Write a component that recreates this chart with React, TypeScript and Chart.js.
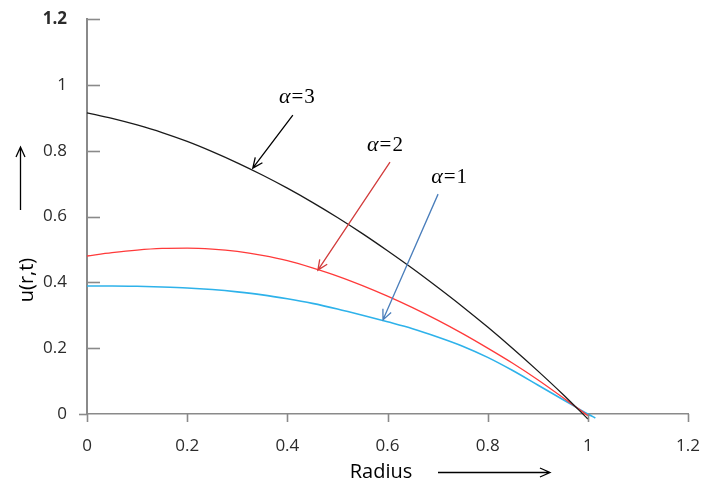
import React, { useEffect, useRef } from "react";
import { Chart, registerables } from "chart.js";

Chart.register(...registerables);

// Radius samples
const radius = [0, 0.05, 0.1, 0.15, 0.2, 0.25, 0.3, 0.35, 0.4, 0.45, 0.5, 0.55, 0.6, 0.65, 0.7, 0.75, 0.8, 0.85, 0.9, 0.95, 1.0];
const radiusBlue = [0, 0.05, 0.1, 0.15, 0.2, 0.25, 0.3, 0.35, 0.4, 0.45, 0.5, 0.55, 0.6, 0.65, 0.7, 0.75, 0.8, 0.85, 0.9, 0.95, 1.0, 1.015];

// u(r,t) for alpha = 3, 2, 1
const alpha3 = [0.915, 0.898, 0.878, 0.855, 0.828, 0.797, 0.763, 0.726, 0.686, 0.643, 0.597, 0.548, 0.496, 0.442, 0.385, 0.326, 0.264, 0.199, 0.131, 0.06, -0.015];
const alpha2 = [0.48, 0.49, 0.498, 0.503, 0.504, 0.501, 0.494, 0.482, 0.466, 0.444, 0.419, 0.39, 0.358, 0.323, 0.285, 0.244, 0.2, 0.154, 0.104, 0.05, -0.005];
const alpha1 = [0.389, 0.389, 0.388, 0.386, 0.383, 0.378, 0.371, 0.362, 0.35, 0.336, 0.319, 0.3, 0.28, 0.259, 0.234, 0.206, 0.172, 0.132, 0.088, 0.044, 0.0, -0.012];

const xTicks = [0, 0.2, 0.4, 0.6, 0.8, 1, 1.2];
const yTicks = [0, 0.2, 0.4, 0.6, 0.8, 1, 1.2];

// annotation labels (data coords) and arrows
const annoText = ["3", "2", "1"];
const annoX = [0.419, 0.595, 0.723];
const annoY = [0.963, 0.817, 0.72];
const arrowFromX = [0.411, 0.605, 0.701];
const arrowFromY = [0.908, 0.765, 0.668];
const arrowToX = [0.331, 0.461, 0.591];
const arrowToY = [0.747, 0.437, 0.286];
const arrowColors = ["#000000", "#d23c3c", "#4a7ebb"];

const AXIS_COLOR = "#8a8a8a";
const LABEL_FONT = "'Open Sans', sans-serif";

function drawArrow(ctx: CanvasRenderingContext2D, x1: number, y1: number, x2: number, y2: number, color: string) {
  ctx.save();
  ctx.strokeStyle = color;
  ctx.lineWidth = 1.3;
  ctx.beginPath();
  ctx.moveTo(x1, y1);
  ctx.lineTo(x2, y2);
  const a = Math.atan2(y2 - y1, x2 - x1);
  const L = 11;
  const s = 0.42;
  ctx.moveTo(x2 - L * Math.cos(a - s), y2 - L * Math.sin(a - s));
  ctx.lineTo(x2, y2);
  ctx.lineTo(x2 - L * Math.cos(a + s), y2 - L * Math.sin(a + s));
  ctx.stroke();
  ctx.restore();
}

const decorPlugin = {
  id: "decor",
  afterDraw(chart: any) {
    const ctx: CanvasRenderingContext2D = chart.ctx;
    const xs = chart.scales.x;
    const ys = chart.scales.y;
    const x0 = xs.getPixelForValue(0);
    const y0 = ys.getPixelForValue(0);
    ctx.save();
    ctx.strokeStyle = AXIS_COLOR;
    ctx.lineWidth = 1.6;
    yTicks.forEach((v) => {
      const py = Math.round(ys.getPixelForValue(v)) + 0.5;
      ctx.beginPath();
      if (v === 0) {
        ctx.moveTo(x0 - 8, py);
        ctx.lineTo(x0, py);
      } else {
        ctx.moveTo(x0, py);
        ctx.lineTo(x0 + 13, py);
      }
      ctx.stroke();
    });
    xTicks.forEach((v) => {
      const px = Math.round(xs.getPixelForValue(v)) + 0.5;
      ctx.beginPath();
      ctx.moveTo(px, y0);
      ctx.lineTo(px, y0 + 8);
      ctx.stroke();
    });
    ctx.restore();

    for (let i = 0; i < annoText.length; i++) {
      drawArrow(
        ctx,
        xs.getPixelForValue(arrowFromX[i]),
        ys.getPixelForValue(arrowFromY[i]),
        xs.getPixelForValue(arrowToX[i]),
        ys.getPixelForValue(arrowToY[i]),
        arrowColors[i]
      );
      const cx = xs.getPixelForValue(annoX[i]);
      const cy = ys.getPixelForValue(annoY[i]);
      ctx.save();
      ctx.fillStyle = "#000";
      ctx.textBaseline = "middle";
      const serif = "'Liberation Serif', serif";
      ctx.font = "italic 22px " + serif;
      const wA = ctx.measureText("α").width;
      ctx.font = "21px " + serif;
      const wE = ctx.measureText("=").width;
      const wN = ctx.measureText(annoText[i]).width;
      const gap = 1;
      const total = wA + gap + wE + gap + wN;
      let px = cx - total / 2;
      ctx.font = "italic 22px " + serif;
      ctx.fillText("α", px, cy);
      px += wA + gap;
      ctx.font = "21px " + serif;
      ctx.fillText("=", px, cy);
      px += wE + gap;
      ctx.fillText(annoText[i], px, cy);
      ctx.restore();
    }

    ctx.save();
    ctx.fillStyle = "#000";
    ctx.font = "20px " + LABEL_FONT;
    ctx.textAlign = "center";
    ctx.textBaseline = "middle";
    ctx.fillText("Radius", 381, 472);
    ctx.save();
    ctx.translate(27, 280);
    ctx.rotate(-Math.PI / 2);
    ctx.fillText("u(r,t)", 0, 0);
    ctx.restore();
    ctx.restore();
    drawArrow(ctx, 438, 472.5, 550, 472.5, "#000");
    drawArrow(ctx, 20.5, 210, 20.5, 147, "#000");
  },
};

export default function App() {
  const ref = useRef<HTMLCanvasElement | null>(null);
  useEffect(() => {
    document.body.style.margin = "0";
    if (!ref.current) return;
    const mk = (xsArr: number[], ysArr: number[]) => xsArr.map((x, i) => ({ x, y: ysArr[i] }));
    const fmt = (v: any) => String(parseFloat(Number(v).toFixed(1)));
    const zeroPad = (s: any) => {
      s.paddingTop = 0;
      s.paddingBottom = 0;
      s.paddingLeft = 0;
      s.paddingRight = 0;
    };
    const line = { pointRadius: 0, cubicInterpolationMode: "monotone" as const, fill: false };
    const chart = new Chart(ref.current, {
      type: "line",
      data: {
        datasets: [
          { label: "α=3", data: mk(radius, alpha3), borderColor: "#1a1a1a", borderWidth: 1.3, ...line },
          { label: "α=2", data: mk(radius, alpha2), borderColor: "#ff3a3a", borderWidth: 1.3, ...line },
          { label: "α=1", data: mk(radiusBlue, alpha1), borderColor: "#2eb2ea", borderWidth: 1.6, ...line },
        ],
      },
      options: {
        animation: false,
        responsive: false,
        clip: false as any,
        layout: { padding: { top: 19, right: 15, left: 0, bottom: 0 } },
        plugins: { legend: { display: false }, tooltip: { enabled: false } },
        scales: {
          x: {
            type: "linear",
            min: 0,
            max: 1.2,
            afterFit: (s: any) => { s.height = 72; zeroPad(s); },
            afterBuildTicks: (s: any) => { s.ticks = xTicks.map((v) => ({ value: v })); },
            grid: { display: false, drawTicks: false },
            border: { display: true, color: AXIS_COLOR, width: 1.6 },
            ticks: { padding: 22, color: "#2b2b2b", font: { family: LABEL_FONT, size: 17 }, callback: fmt, maxRotation: 0, autoSkip: false },
          },
          y: {
            type: "linear",
            min: 0,
            max: 1.2,
            afterFit: (s: any) => { s.width = 87; zeroPad(s); },
            afterBuildTicks: (s: any) => { s.ticks = yTicks.map((v) => ({ value: v })); },
            grid: { display: false, drawTicks: false },
            border: { display: true, color: AXIS_COLOR, width: 2 },
            ticks: {
              padding: 20,
              color: "#2b2b2b",
              font: (c: any) => ({ family: LABEL_FONT, size: 17, weight: c.tick && c.tick.value === 1.2 ? "bold" : "normal" }),
              callback: fmt,
              autoSkip: false,
            },
          },
        },
      },
      plugins: [decorPlugin],
    });
    return () => chart.destroy();
  }, []);
  return <canvas ref={ref} width={703} height={486} style={{ display: "block", width: 703, height: 486 }} />;
}
